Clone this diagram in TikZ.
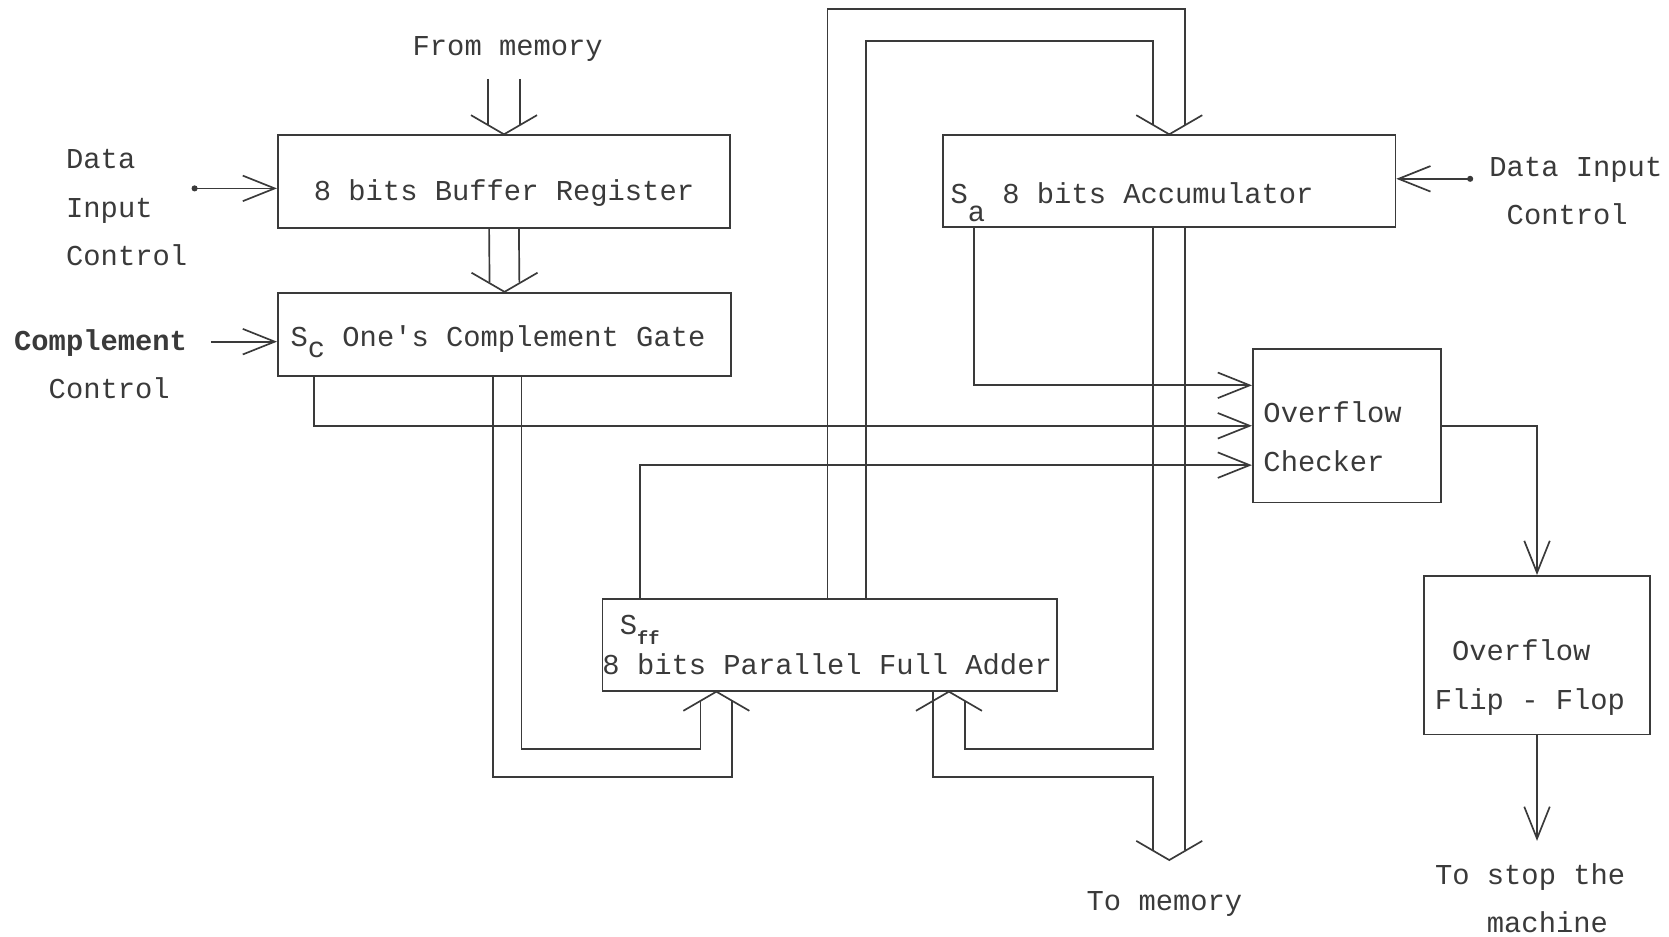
\documentclass[tikz,border=0pt]{standalone}
\usepackage{fontspec}
\setmainfont{Liberation Mono}
\usetikzlibrary{arrows.meta}
\definecolor{ink}{HTML}{3A3A3A}
\newcommand{\monospaces}{\spaceskip=0.6em\relax}

\begin{document}
\begin{tikzpicture}[color=ink, line width=0.45pt, font=\fontsize{7.7}{13}\selectfont,
  execute at begin node={\monospaces},
  box/.style={draw, inner sep=0pt},
  lbl/.style={inner sep=0pt},
  sig/.style={-{Straight Barb[length=3mm,width=2.4mm]}},
  dotsig/.style={{Circle[length=1.6pt]}-{Straight Barb[length=3mm,width=2.4mm]}},
  pipe/.style={shorten >=0.9mm},
  pipehead/.pic={\draw (-0.31,0.18) -- (0,0) -- (0.31,0.18);}]
  \useasboundingbox (0,0) rectangle (15.68,8.80);

  \node[box, minimum width=4.25cm, minimum height=0.87cm, text height=0.35cm, text depth=0pt] (buf) at (4.735,7.095) {8 bits Buffer Register};
  \node[box, minimum width=4.26cm, minimum height=0.78cm, text width=4.02cm, align=left, text height=0.24cm, text depth=0pt] (gate) at (4.74,5.66) {S\raisebox{-0.7ex}{c} One\textquotesingle s Complement Gate};
  \node[box, minimum width=4.25cm, minimum height=0.86cm, text width=4.11cm, align=left, text height=0.42cm, text depth=0pt] (acc) at (10.985,7.10) {S\raisebox{-1.2ex}{a} 8 bits Accumulator};
  \node[box, minimum width=1.77cm, minimum height=1.44cm, text width=1.57cm, align=left] (chk) at (12.655,4.80) {\rule{0pt}{0.40cm}Overflow\\Checker};
  \node[box, minimum width=4.27cm, minimum height=0.86cm, text width=4.27cm, align=left] (add) at (7.795,2.74) {\hphantom{8}S\raisebox{-0.7ex}{\fontsize{5}{5}\selectfont\bfseries ff}\\[-2.2pt]8 bits Parallel Full Adder};
  \node[box, minimum width=2.12cm, minimum height=1.49cm, text width=1.92cm, align=left] (ff) at (14.44,2.645) {\rule{0pt}{0.62cm}\hphantom{F}Overflow\\Flip - Flop};

  \node[lbl, align=left] (dic) at (1.19,6.85) {Data\\Input\\Control};
  \node[lbl, align=left] (ccl) at (0.945,5.38) {\textbf{Complement}\\\hphantom{Co}Control};
  \node[lbl, align=left] (adic) at (14.805,7.005) {Data Input\\\hphantom{D}Control};
  \node[lbl] (fmem) at (4.77,8.34) {From memory};
  \node[lbl] (tmem) at (10.94,0.31) {To memory};
  \node[lbl, align=left] (tstop) at (14.375,0.36) {To stop the\\\hphantom{To }machine};

  \coordinate (din) at (1.80,7.03);
  \coordinate (cin) at (1.98,5.59);
  \coordinate (ain) at (13.84,7.12);
  \coordinate (inL) at ([xshift=-1.065cm]add.south);
  \coordinate (inR) at ([xshift=1.12cm]add.south);
  \coordinate (tomem) at (10.985,0.72);
  \coordinate (tostop) at (14.44,0.90);

  \draw[dotsig] (din) -- (din -| buf.west);
  \draw[sig] (cin) -- (cin -| gate.west);
  \draw[dotsig] (ain) -- (ain -| acc.east);

  \draw[sig] ([xshift=0.30cm]acc.south west) |- ([yshift=0.38cm]chk.west);
  \draw[sig] ([xshift=0.35cm]gate.south west) |- (chk.west);
  \draw[sig] ([xshift=0.36cm]add.north west) |- ([yshift=-0.37cm]chk.west);
  \draw[sig] (chk.east) -| (ff.north);
  \draw[sig] (ff.south) -- (tostop);

  \foreach \dx in {-0.15,0.15}
    \draw[pipe] ([xshift=\dx cm,yshift=0.52cm]buf.north) -- ([xshift=\dx cm]buf.north);
  \pic at (buf.north) {pipehead};
  \foreach \dx in {-0.14,0.14}
    \draw[pipe] ([xshift=\dx cm]buf.south) -- ([xshift=\dx cm]gate.north);
  \pic at (gate.north) {pipehead};

  \draw[pipe] ([xshift=0.16cm]gate.south) -- ++(0,-3.50) -| ([xshift=-0.15cm]inL);
  \draw[pipe] ([xshift=-0.11cm]gate.south) -- ++(0,-3.76) -| ([xshift=0.15cm]inL);
  \pic[rotate=180] at (inL) {pipehead};

  \draw[pipe] ([xshift=-0.02cm]add.north) -- ++(0,5.54) -| ([xshift=0.15cm]acc.north);
  \draw[pipe] ([xshift=0.34cm]add.north) -- ++(0,5.24) -| ([xshift=-0.15cm]acc.north);
  \pic at (acc.north) {pipehead};

  \draw[pipe] ([xshift=-0.15cm]acc.south) -- ++(0,-4.90) -| ([xshift=0.15cm]inR);
  \pic[rotate=180] at (inR) {pipehead};
  \draw[pipe] ([xshift=-0.15cm]inR) -- ++(0,-0.80) -| ([xshift=-0.15cm]tomem);
  \draw[pipe] ([xshift=0.15cm]acc.south) -- ([xshift=0.15cm]tomem);
  \pic at (tomem) {pipehead};
\end{tikzpicture}
\end{document}
